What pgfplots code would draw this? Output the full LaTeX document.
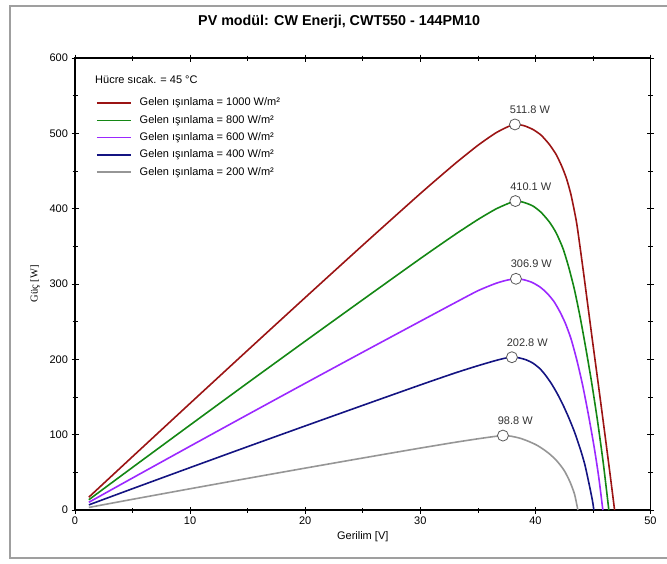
\documentclass[border=0pt]{standalone}
\usepackage{fontspec}
\setmainfont{Liberation Sans}
\newfontfamily\seriffont{Liberation Serif}
\usepackage{pgfplots}
\pgfplotsset{compat=1.18}
\definecolor{cred}{RGB}{155,20,20}
\definecolor{cgreen}{RGB}{20,135,20}
\definecolor{cpurple}{RGB}{155,40,255}
\definecolor{cblue}{RGB}{20,20,130}
\definecolor{cgray}{RGB}{150,150,150}
\begin{document}
\begin{tikzpicture}[x=1pt,y=1pt]
\useasboundingbox (0,0) rectangle (667,563);
\draw[gray!75, line width=1.2pt] (667,557) -- (10,557) -- (10,5) -- (667,5);
\begin{axis}[
  at={(75pt,53pt)}, anchor=south west,
  scale only axis, width=575.5pt, height=452pt,
  xmin=0, xmax=50, ymin=0, ymax=600,
  xtick={0,10,...,50}, ytick={0,100,...,600},
  minor x tick num=1, minor y tick num=1,
  tick align=center,
  major tick length=7pt, minor tick length=5pt,
  every tick/.style={black, line width=0.7pt},
  axis line style={line width=1.6pt},
  ticklabel style={font=\fontsize{11}{13}\selectfont},
  /pgf/number format/assume math mode=true,
  title={\bfseries PV modül: CW Enerji, CWT550 - 144PM10},
  title style={at={(0.459,1)}, anchor=center, yshift=30pt, font=\fontsize{14.3}{16}\selectfont},
  xlabel={Gerilim [V]},
  xlabel style={at={(0.5,0)}, anchor=center, yshift=-27pt, font=\fontsize{11}{13}\selectfont},
  ylabel={Güç [W]},
  ylabel style={at={(-0.0695,0.5)}, anchor=center, font=\seriffont\fontsize{10.5}{12}\selectfont},
  legend style={at={(0.0365,0.912)}, anchor=north west, draw=none, fill=none,
    inner sep=0pt, row sep=7.3pt, column sep=8pt,
    font=\fontsize{11}{13}\selectfont,
    nodes={inner sep=0pt, text height=8pt, text depth=2pt}},
  legend cell align=left,
  legend image code/.code={\draw[#1, line width=1.5pt] (0pt,0pt) -- (34pt,0pt);},
]
\addplot[cred, line width=1.6pt, smooth, tension=0.4] coordinates {
(1.2,17.0) (5,70.9) (10,141.6) (15,212.0) (20,282.0) (25,351.5) (30,420.0)
(33,459.5) (35,484.0) (36.5,500.0) (37.5,508.0) (38.2,511.8) (39.0,510.2)
(39.8,505.0) (40.5,497.5) (41.2,485.5) (41.8,472) (42.3,456) (42.7,440)
(43.1,418) (43.55,384) (43.8,358) (44.2,313) (44.5,278) (45.0,220)
(45.5,163) (46.0,105) (46.5,46) (46.88,0)};
\addlegendentry{Gelen ışınlama = 1000 W/m²}
\addplot[cgreen, line width=1.6pt, smooth, tension=0.4] coordinates {
(1.2,13.6) (5,56.6) (10,112.8) (15,168.7) (20,224.1) (25,279.1) (30,333.7)
(33,365.5) (35,385.5) (36.5,399.0) (37.5,406.0) (38.26,410.1) (39.0,408.3)
(39.79,403.5) (40.5,395.0) (41.23,382.0) (41.8,368.0) (42.4,347.0)
(42.9,322.0) (43.4,292.0) (43.9,255.0) (44.4,213.0) (44.9,168.0)
(45.4,118.0) (45.9,62.0) (46.38,0)};
\addlegendentry{Gelen ışınlama = 800 W/m²}
\addplot[cpurple, line width=1.6pt, smooth, tension=0.4] coordinates {
(1.2,10.2) (5,42.5) (10,84.7) (15,126.6) (20,168.2) (25,209.5) (30,250.5)
(33,275.0) (35,291.0) (36.5,300.5) (37.5,305.0) (38.31,306.9) (39.0,305.6)
(39.7,302.2) (40.4,296.0) (41.0,288.0) (41.6,277.0) (42.1,264.0)
(42.6,248.0) (43.1,227.0) (43.6,199.0) (44.1,166.0) (44.6,127.0)
(45.1,84.0) (45.5,44.0) (45.86,0)};
\addlegendentry{Gelen ışınlama = 600 W/m²}
\addplot[cblue, line width=1.6pt, smooth, tension=0.4] coordinates {
(1.2,6.8) (5,28.3) (10,56.3) (15,84.1) (20,111.6) (25,138.9) (30,166.0)
(33,181.8) (35,191.5) (36.5,198.2) (37.3,201.3) (37.96,202.8) (38.6,201.9)
(39.2,199.3) (39.8,194.8) (40.4,187.5) (40.9,178.5) (41.4,167.5)
(41.9,154.5) (42.4,139.5) (42.9,122.5) (43.4,103.5) (43.9,81.0)
(44.3,60.0) (44.7,32.0) (44.95,13.0) (45.08,0)};
\addlegendentry{Gelen ışınlama = 400 W/m²}
\addplot[cgray, line width=1.6pt, smooth, tension=0.4] coordinates {
(1.2,3.4) (5,14.2) (10,28.2) (15,42.0) (20,55.6) (25,69.0) (30,82.2)
(33,89.8) (35,94.5) (36.3,97.3) (37.18,98.8) (37.9,97.9) (38.63,95.4)
(39.3,91.8) (40.07,86.5) (40.7,80.5) (41.3,73.5) (41.9,64.5) (42.5,52.5)
(43.0,37.5) (43.4,21.0) (43.69,0)};
\addlegendentry{Gelen ışınlama = 200 W/m²}
\addplot[forget plot, only marks, mark=*, mark size=5.5pt,
  mark options={fill=white, draw=black!65, line width=0.8pt},
  point meta=explicit symbolic, nodes near coords,
  every node near coord/.append style={anchor=base west, xshift=-5.5pt, yshift=11pt,
    inner sep=0pt, text=black!80, font=\fontsize{11}{13}\selectfont}]
coordinates {
(38.22,511.8) [511.8 W]
(38.26,410.1) [410.1 W]
(38.31,306.9) [306.9 W]
(37.96,202.8) [202.8 W]
(37.18,98.8) [98.8 W]};
\node[anchor=base west, inner sep=0pt, font=\fontsize{11}{13}\selectfont]
  at (rel axis cs:0.0348,0.9425) {Hücre sıcak. = 45 °C};
\end{axis}
\end{tikzpicture}
\end{document}
